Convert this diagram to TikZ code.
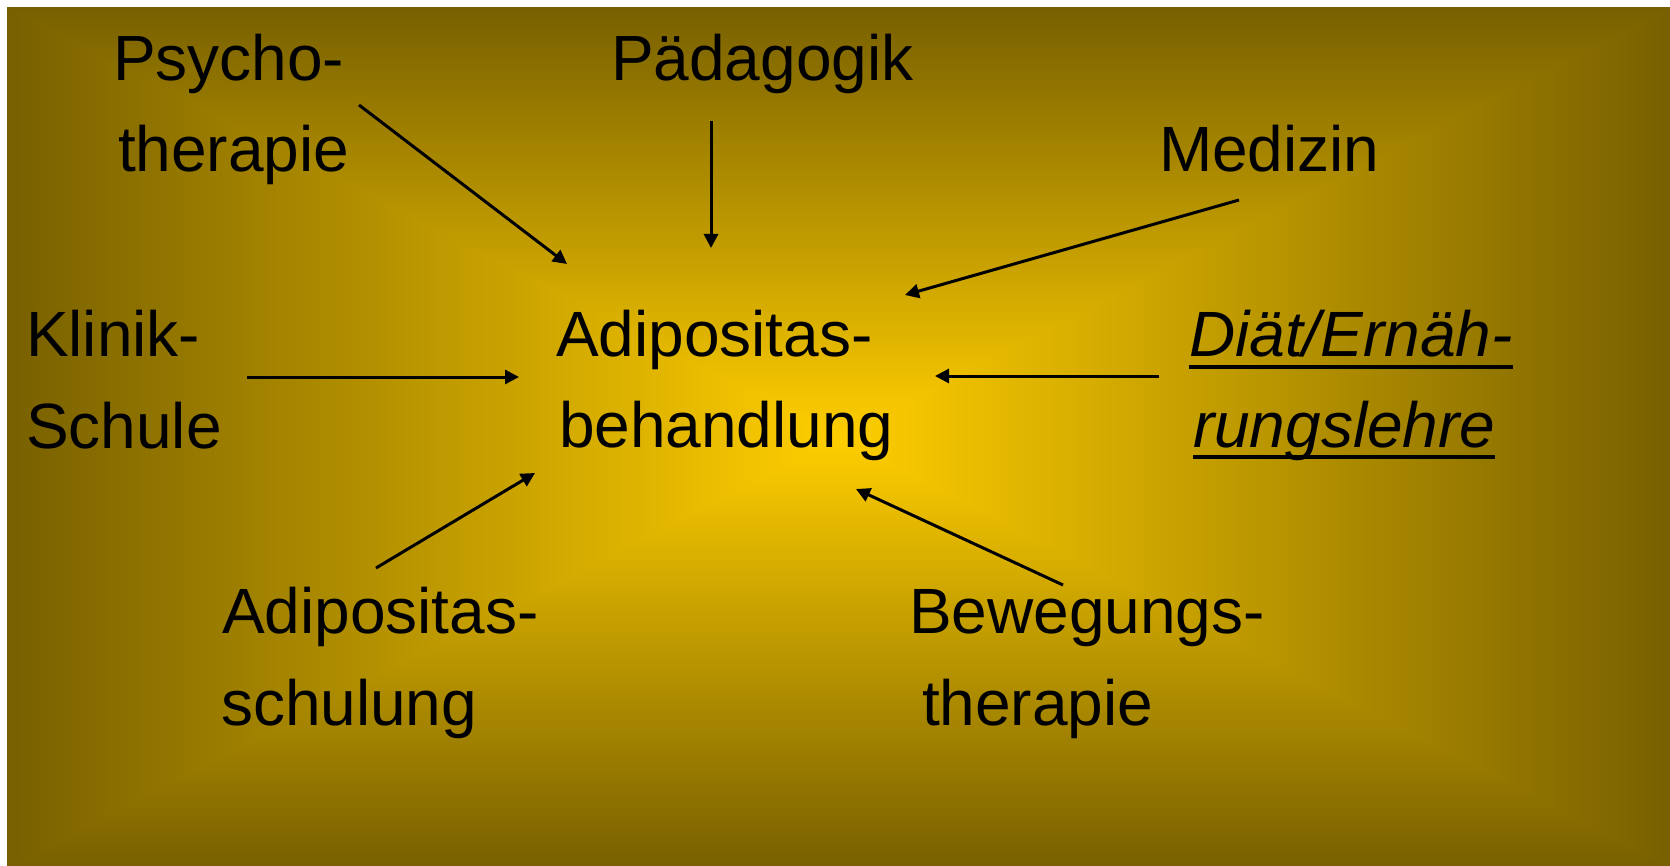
\documentclass[tikz,border=0pt]{standalone}
\usepackage{fontspec}
\setmainfont{Liberation Sans}
\usetikzlibrary{arrows.meta}
\definecolor{edgecol}{RGB}{120,96,0}
\definecolor{ctrcol}{RGB}{255,206,0}
\tikzset{
  lbl/.style={anchor=base west, inner sep=0pt, outer sep=0pt, text=black,
    font=\fontsize{32pt}{46pt}\selectfont},
  ilbl/.style={lbl, font=\fontsize{32pt}{46pt}\selectfont\itshape},
  arr/.style={line width=1.5pt, -{Triangle[length=7pt,width=7pt]}},
  uline/.style={line width=2.2pt}
}
\begin{document}
\begin{tikzpicture}[x=0.5pt,y=-0.5pt]
\useasboundingbox (0,0) rectangle (1670,866);
\fill[white] (0,0) rectangle (1670,866);
% rectangular "from centre" gradient
\coordinate (c) at (838,437);
\shade[top color=edgecol, bottom color=ctrcol] (7,8) rectangle (1670,437);
\shade[top color=ctrcol, bottom color=edgecol] (7,437) rectangle (1670,866);
\shade[left color=edgecol, right color=ctrcol] (7,8) -- (c) -- (7,866) -- cycle;
\shade[left color=ctrcol, right color=edgecol] (1670,8) -- (c) -- (1670,866) -- cycle;

% labels
\node[lbl] (psy1) at (113,81) {Psycho-};
\node[lbl] (psy2) at (118,172) {therapie};
\node[lbl] (pad) at (611,81) {Pädagogik};
\node[lbl] (med) at (1159,172) {Medizin};
\node[lbl] (kli1) at (26,357) {Klinik-};
\node[lbl] (kli2) at (26,448) {Schule};
\node[lbl] (adi1) at (556,357) {Adipositas-};
\node[lbl] (adi2) at (559,447) {behandlung};
\node[ilbl] (dia1) at (1189,356) {Diät/Ernäh-};
\node[ilbl] (dia2) at (1193,447) {rungslehre};
\node[lbl] (sch1) at (222,633) {Adipositas-};
\node[lbl] (sch2) at (221,725) {schulung};
\node[lbl] (bew1) at (909,633) {Bewegungs-};
\node[lbl] (bew2) at (922,725) {therapie};

% underlines
\draw[uline] ([yshift=-5.5pt]dia1.base west) -- ([yshift=-5.5pt]dia1.base east);
\draw[uline] ([yshift=-5pt]dia2.base west) -- ([yshift=-5pt]dia2.base east);

% connector ends
\coordinate (s1) at (359,105); \coordinate (t1) at (567,264);
\coordinate (s2) at (711,121); \coordinate (t2) at (711,248);
\coordinate (s3) at (1239,200); \coordinate (t3) at (905,295);
\coordinate (s4) at (247,377); \coordinate (t4) at (519,377);
\coordinate (s5) at (1159,376); \coordinate (t5) at (935,376);
\coordinate (s6) at (376,568); \coordinate (t6) at (535,473);
\coordinate (s7) at (1063,585); \coordinate (t7) at (856,489);
\foreach \i in {1,...,7} \draw[arr] (s\i) -- (t\i);
\end{tikzpicture}
\end{document}
